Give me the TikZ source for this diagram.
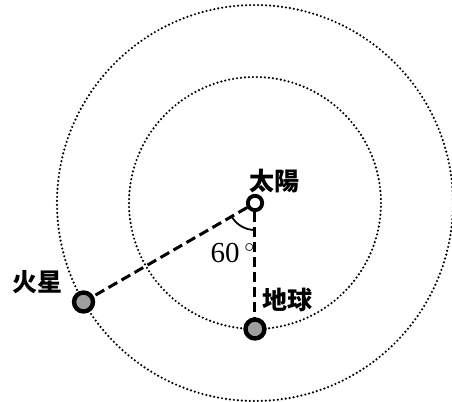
\documentclass[tikz,border=0pt]{standalone}
\usepackage{fontspec}
\newfontfamily\cjk{Noto Sans CJK JP}
\setmainfont{Liberation Serif}
\usetikzlibrary{positioning}
\begin{document}
\begin{tikzpicture} [x=0.5pt, y=0.5pt, thick,
                    rata/.style={line width=1.2pt, dash pattern=on 0pt off 2pt, line cap=round},
                    planeetta/.style={circle,draw,line width=2.2pt,fill=gray!75,minimum size=9.5pt,inner sep=0pt},
                    aurinko/.style={circle,draw,line width=1.9pt,fill=white,minimum size=7.2pt,inner sep=0pt},
                    yhteys/.style={line width=1.5pt, dash pattern=on 5pt off 2.5pt},
                    nimi/.style={font=\cjk\bfseries\fontsize{12.5}{15}\selectfont, inner sep=0pt}]

\useasboundingbox (-255,-199) rectangle (197,203);

% orbits
\draw[rata] (0,0) circle (126);
\draw[rata] (0,0) circle (198);

\node[aurinko] (s) at (0,0) {};
\node[planeetta] (e) at (270:126) {};
\node[planeetta] (m) at (210:198) {};

\draw[yhteys] (s) -- (e);
\draw[yhteys] (s) -- (m);
\draw[line width=0.9pt] (210:27) arc[start angle=210, end angle=270, radius=27];

\node[nimi] (ts) at (20,22) {太陽};
\node[nimi] (te) at (33,-97) {地球};
\node[nimi] (tm) at (-217,-79) {火星};
\node[font=\fontsize{14.5}{16}\selectfont, inner sep=0pt] (kulma) at (-22,-50) {60\,$^\circ$};
\end{tikzpicture}
\end{document}
